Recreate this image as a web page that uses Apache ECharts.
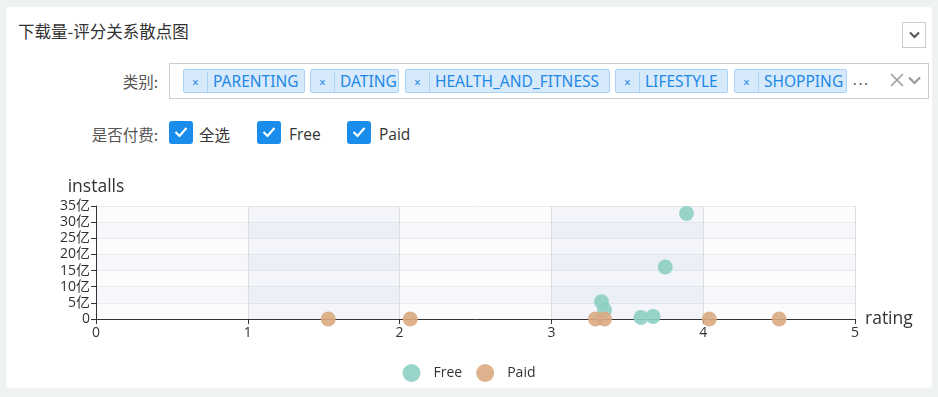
<!DOCTYPE html>
<html>
<head>
<meta charset="utf-8">
<script src="https://cdn.jsdelivr.net/npm/echarts@6/dist/echarts.min.js"></script>
<style>
  html, body { margin: 0; padding: 0; }
  body {
    width: 938px; height: 397px; background: #eef2f3; position: relative; overflow: hidden;
    font-family: "Open Sans", "Noto Sans CJK SC", sans-serif; color: #333;
  }
  .card { position: absolute; left: 6px; top: 7px; width: 926px; height: 381px; background: #fff; border-radius: 3px; }
  .title { position: absolute; left: 12px; top: 12px; font-size: 16.5px; font-family: "Noto Sans CJK SC", sans-serif; color: #333; }
  .toggle { position: absolute; left: 896px; top: 15px; width: 24px; height: 26px; border: 1px solid #ccc; box-sizing: border-box; }
  .toggle svg { position: absolute; left: 6px; top: 8px; }
  .lbl { position: absolute; width: 152px; text-align: right; font-size: 15.5px; color: #555; font-family: "Noto Sans CJK SC", sans-serif; }
  .select { position: absolute; left: 163px; top: 56px; width: 760px; height: 36px; border: 1px solid #ccc; box-sizing: border-box; }
  .tag {
    position: absolute; top: 5px; height: 24px; box-sizing: border-box; background: #d7eafc; border: 1px solid #a9d3f7;
    border-radius: 2px; color: #1e88e5; font-size: 15.5px; line-height: 22px; white-space: nowrap; overflow: hidden;
    font-family: "Noto Sans", sans-serif;
  }
  .tag .x { display: inline-block; width: 23px; text-align: center; border-right: 1px solid #a9d3f7; font-size: 12px; }
  .tag .t { padding: 0 5px; }
  .more { position: absolute; left: 683px; top: 6px; font-size: 14px; color: #333; letter-spacing: 2px; }
  .clear { position: absolute; left: 720px; top: 8px; }
  .caret { position: absolute; left: 738px; top: 12px; }
  .cb { position: absolute; top: 114px; width: 24px; height: 23px; border-radius: 3px; background: #1a8ceb; }
  .cb svg { position: absolute; left: 5px; top: 5px; }
  .cbt { position: absolute; top: 116px; font-size: 15.5px; color: #333; }
  #chart { position: absolute; left: 6px; top: 160px; width: 926px; height: 228px; }
</style>
</head>
<body>
<div class="card">
  <div class="title">下载量-评分关系散点图</div>
  <div class="toggle"><svg width="11" height="8" viewBox="0 0 11 8"><path d="M1 1.5 L5.5 6 L10 1.5" stroke="#555" stroke-width="2" fill="none"/></svg></div>
  <div class="lbl" style="left:0;top:63px;">类别:</div>
  <div class="select" id="sel">
    <div class="more">...</div>
    <svg class="clear" width="14" height="16" viewBox="0 0 14 16"><path d="M1 2 L13 14 M13 2 L1 14" stroke="#999" stroke-width="1.5"/></svg>
    <svg class="caret" width="13" height="9" viewBox="0 0 13 9"><path d="M1 1.5 L6.5 7 L12 1.5" stroke="#999" stroke-width="2.2" fill="none"/></svg>
  </div>
  <div class="lbl" style="left:0;top:116px;">是否付费:</div>
  <div class="cb" style="left:163px;"><svg width="14" height="12" viewBox="0 0 14 12"><path d="M1.5 6 L5.5 10 L12.5 2" stroke="#fff" stroke-width="2.2" fill="none"/></svg></div>
  <div class="cbt" style="left:193px;font-family:'Noto Sans CJK SC',sans-serif;">全选</div>
  <div class="cb" style="left:251px;"><svg width="14" height="12" viewBox="0 0 14 12"><path d="M1.5 6 L5.5 10 L12.5 2" stroke="#fff" stroke-width="2.2" fill="none"/></svg></div>
  <div class="cbt" style="left:283px;">Free</div>
  <div class="cb" style="left:341px;"><svg width="14" height="12" viewBox="0 0 14 12"><path d="M1.5 6 L5.5 10 L12.5 2" stroke="#fff" stroke-width="2.2" fill="none"/></svg></div>
  <div class="cbt" style="left:373px;">Paid</div>
</div>
<div id="chart"></div>
<script>
// selected categories shown as tags
var categories = ['PARENTING', 'DATING', 'HEALTH_AND_FITNESS', 'LIFESTYLE', 'SHOPPING']
var tagLeft = [13, 140, 235, 445, 564]
var tagWidth = [122, 89, 205, 113, 113]

// [rating, installs]
var freeData = [
  [3.89, 3270000000],
  [3.75, 1610000000],
  [3.33, 536000000],
  [3.35, 279000000],
  [3.59, 50000000],
  [3.67, 80000000]
]
var paidData = [
  [1.53, 100000],
  [2.07, 50000],
  [3.29, 100000],
  [3.35, 500000],
  [4.04, 200000],
  [4.50, 1000000]
]
var xTicks = [0, 1, 2, 3, 4, 5]

var sel = document.getElementById('sel')
categories.forEach(function (c, i) {
  var d = document.createElement('div')
  d.className = 'tag'
  d.style.left = tagLeft[i] + 'px'
  d.style.width = tagWidth[i] + 'px'
  d.innerHTML = '<span class="x">×</span><span class="t">' + c + '</span>'
  sel.appendChild(d)
})

var areaColors = ['rgba(250,250,250,0.3)', 'rgba(210,219,238,0.25)']

var chart = echarts.init(document.getElementById('chart'))
chart.setOption({
  textStyle: { fontFamily: '"Open Sans", "Noto Sans CJK SC", sans-serif' },
  color: ['#8dcfc3', '#d9aa80'],
  grid: { left: 90, right: 77, top: 46, bottom: 69 },
  legend: {
    bottom: 1,
    left: 'center',
    itemWidth: 18,
    itemHeight: 18,
    itemGap: 14,
    textStyle: { fontSize: 14, color: '#333', padding: [0, 0, 0, 8] },
    data: [{ name: 'Free', icon: 'circle' }, { name: 'Paid', icon: 'circle' }]
  },
  xAxis: {
    type: 'value',
    name: 'rating',
    nameGap: 10,
    nameTextStyle: { fontSize: 17.5, color: '#333', verticalAlign: 'middle' },
    min: xTicks[0],
    max: xTicks[xTicks.length - 1],
    interval: 1,
    axisLine: { lineStyle: { color: '#333' } },
    axisTick: { show: true },
    axisLabel: { fontSize: 14, color: '#333', margin: 7 },
    splitLine: { show: true, lineStyle: { color: '#ddd' } },
    splitArea: { show: true, areaStyle: { color: areaColors } }
  },
  yAxis: {
    type: 'value',
    name: 'installs',
    nameGap: 10,
    nameTextStyle: { fontSize: 17.5, color: '#333', align: 'center' },
    min: 0,
    max: 3500000000,
    interval: 500000000,
    axisLine: { show: true, lineStyle: { color: '#333' } },
    axisTick: { show: true },
    axisLabel: {
      fontSize: 14, color: '#333', margin: 6, lineHeight: 14,
      formatter: function (v) { return v === 0 ? '0' : (v / 100000000) + '亿' }
    },
    splitLine: { show: true, lineStyle: { color: '#e6e6e6' } },
    splitArea: { show: true, areaStyle: { color: areaColors } }
  },
  series: [
    { name: 'Free', type: 'scatter', symbolSize: 15, data: freeData, itemStyle: { opacity: 0.9 } },
    { name: 'Paid', type: 'scatter', symbolSize: 15, data: paidData, itemStyle: { opacity: 0.9 } }
  ]
})
</script>
</body>
</html>
